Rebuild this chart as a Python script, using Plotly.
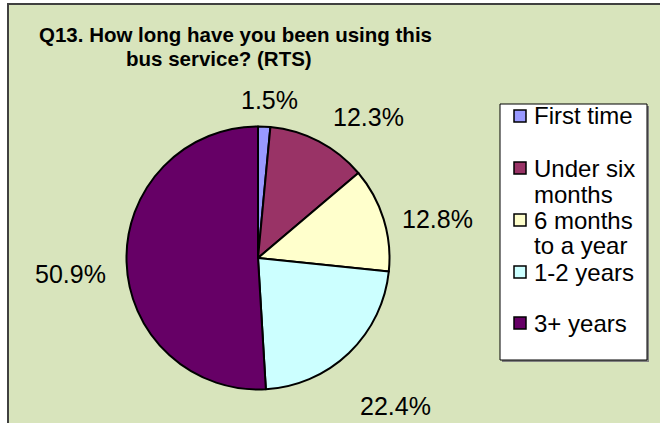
import math
import plotly.graph_objects as go

# Survey answers for Q13 (RTS), percent of respondents
categories = ["First time", "Under six months", "6 months to a year", "1-2 years", "3+ years"]
legend_lines = [["First time"], ["Under six", "months"], ["6 months", "to a year"], ["1-2 years"], ["3+ years"]]
shares = [1.5, 12.3, 12.8, 22.4, 50.9]
colors = ["#9999FF", "#993366", "#FFFFCC", "#CCFFFF", "#660066"]

W, H = 660, 423
CX, CY, R = 258, 258, 131.5          # pie centre and radius in pixels
LABEL_R = 160                        # base distance of the value labels
label_offsets = [(4, 2), (36, 1), (27, 8), (27, 32), (-28, 11)]
legend_rows = [116, 168, 220, 272, 323]  # first-line centre of each legend entry
LINE_GAP = 26

BG = "#D8E4BC"
TEXT_FONT = "Liberation Sans, Arial, sans-serif"
TITLE_FONT = "Liberation Sans, Arial, sans-serif"


def px(x):
    return x / W


def py(y):
    return 1 - y / H


fig = go.Figure(
    go.Pie(
        labels=categories,
        values=shares,
        sort=False,
        direction="clockwise",
        rotation=0,
        marker=dict(colors=colors, line=dict(color="black", width=2)),
        textinfo="none",
        hoverinfo="label+percent",
        showlegend=False,
        domain=dict(x=[px(CX - R), px(CX + R)], y=[py(CY + R), py(CY - R)]),
    )
)

shapes = []
# chart area with its frame (right/bottom edges run off the page)
shapes.append(dict(type="rect", xref="paper", yref="paper", layer="below",
                   x0=px(8), x1=px(W + 10), y0=py(4), y1=py(H + 10),
                   fillcolor=BG, line=dict(color="#404040", width=2)))

# value labels placed outside each slice
total = sum(shares)
cum = 0.0
annotations = []
for v, (dx, dy) in zip(shares, label_offsets):
    mid = (cum + v / 2) / total * 2 * math.pi
    cum += v
    lx = CX + LABEL_R * math.sin(mid) + dx
    ly = CY - LABEL_R * math.cos(mid) + dy
    annotations.append(dict(x=px(lx), y=py(ly), xref="paper", yref="paper",
                            text=f"{v:.1f}%", showarrow=False,
                            xanchor="center", yanchor="middle",
                            font=dict(family=TEXT_FONT, size=25, color="black")))

# title, two lines
annotations.append(dict(x=px(235), y=py(34), xref="paper", yref="paper",
                        text="<b>Q13. How long have you been using this</b>", showarrow=False,
                        xanchor="center", yanchor="middle",
                        font=dict(family=TITLE_FONT, size=20.5, color="black")))
annotations.append(dict(x=px(219), y=py(59), xref="paper", yref="paper",
                        text="<b>bus service? (RTS)</b>", showarrow=False,
                        xanchor="center", yanchor="middle",
                        font=dict(family=TITLE_FONT, size=20.5, color="black")))

# legend box with drop shadow
LX0, LX1, LY0, LY1 = 500, 647, 104, 360
shapes.append(dict(type="rect", xref="paper", yref="paper",
                   x0=px(LX0 + 2), x1=px(LX1 + 2), y0=py(LY0 + 2), y1=py(LY1 + 2),
                   fillcolor="#808080", line=dict(width=0)))
shapes.append(dict(type="rect", xref="paper", yref="paper",
                   x0=px(LX0), x1=px(LX1), y0=py(LY0), y1=py(LY1),
                   fillcolor="white", line=dict(color="black", width=1)))

for lines, col, row in zip(legend_lines, colors, legend_rows):
    shapes.append(dict(type="rect", xref="paper", yref="paper",
                       x0=px(514), x1=px(526), y0=py(row - 6), y1=py(row + 6),
                       fillcolor=col, line=dict(color="black", width=1.5)))
    for i, t in enumerate(lines):
        annotations.append(dict(x=px(532), y=py(row + i * LINE_GAP), xref="paper", yref="paper",
                                text=t, showarrow=False, xanchor="left", yanchor="middle",
                                font=dict(family=TEXT_FONT, size=24, color="black")))

fig.update_layout(
    width=W,
    height=H,
    margin=dict(l=0, r=0, t=0, b=0),
    paper_bgcolor="white",
    plot_bgcolor="white",
    shapes=shapes,
    annotations=annotations,
    showlegend=False,
)

fig.write_html("out.html")
